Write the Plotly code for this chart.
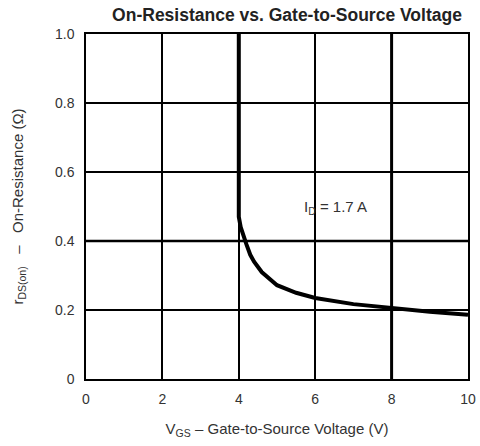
import plotly.graph_objects as go

# Data
vgs = [4.0, 4.0, 4.05, 4.1, 4.2, 4.3, 4.4, 4.6, 4.8, 5.0, 5.5, 6.0, 7.0, 8.0, 9.0, 10.0]
rds_on = [1.0, 0.47, 0.44, 0.42, 0.39, 0.36, 0.34, 0.31, 0.29, 0.272, 0.25, 0.235, 0.217, 0.205, 0.195, 0.186]

x_ticks = [0, 2, 4, 6, 8, 10]
x_tick_labels = ["0", "2", "4", "6", "8", "10"]
y_ticks = [0, 0.2, 0.4, 0.6, 0.8, 1.0]
y_tick_labels = ["0", "0.2", "0.4", "0.6", "0.8", "1.0"]

heavy_x = [8]
heavy_y = [0.4]

label_text = "I<sub>D</sub> = 1.7 A"
label_pos = (6.52, 0.496)

FONT = "Liberation Sans, Arial, sans-serif"
TXT = "#333333"

fig = go.Figure()
fig.add_trace(go.Scatter(x=vgs, y=rds_on, mode="lines",
                         line=dict(color="black", width=4), showlegend=False,
                         hoverinfo="skip"))

shapes = []
for xv in heavy_x:
    shapes.append(dict(type="line", xref="x", yref="paper", x0=xv, x1=xv, y0=0, y1=1,
                       line=dict(color="black", width=3), layer="below"))
for yv in heavy_y:
    shapes.append(dict(type="line", xref="paper", yref="y", x0=0, x1=1, y0=yv, y1=yv,
                       line=dict(color="black", width=2.5), layer="below"))

fig.update_layout(
    width=480, height=446,
    margin=dict(l=86, r=12, t=34, b=67, autoexpand=False),
    paper_bgcolor="white", plot_bgcolor="white",
    font=dict(family=FONT, color=TXT, size=14),
    title=dict(text="<b>On-Resistance vs. Gate-to-Source Voltage</b>",
               x=287 / 480, xanchor="center", y=1 - 15 / 446, yanchor="middle",
               font=dict(size=17.5, color="#222222", family=FONT)),
    shapes=shapes,
    annotations=[dict(x=label_pos[0], y=label_pos[1], xref="x", yref="y",
                      text=label_text, showarrow=False,
                      font=dict(size=15, color=TXT, family=FONT))],
    xaxis=dict(range=[0, 10], tickvals=x_ticks, ticktext=x_tick_labels,
               showgrid=True, gridcolor="black", gridwidth=1.5,
               showline=True, linecolor="black", linewidth=1.5, mirror=True,
               zeroline=False, ticks="outside", ticklen=6, tickcolor="rgba(0,0,0,0)",
               automargin=False,
               title=dict(text="V<sub>GS</sub> – Gate-to-Source Voltage (V)",
                          font=dict(size=15, color=TXT), standoff=18),
               tickfont=dict(size=14, color=TXT)),
    yaxis=dict(range=[0, 1.0], tickvals=y_ticks, ticktext=y_tick_labels,
               showgrid=True, gridcolor="black", gridwidth=1.5,
               showline=True, linecolor="black", linewidth=1.5, mirror=True,
               zeroline=False, ticks="outside", ticklen=7, tickcolor="rgba(0,0,0,0)",
               automargin=False,
               title=dict(text="r<sub>DS(on)</sub>   –   On-Resistance (Ω)",
                          font=dict(size=15, color=TXT), standoff=28),
               tickfont=dict(size=14, color=TXT)),
)

fig.write_html("out.html", config={"displayModeBar": False},
               post_script="document.body.style.margin='0';")
